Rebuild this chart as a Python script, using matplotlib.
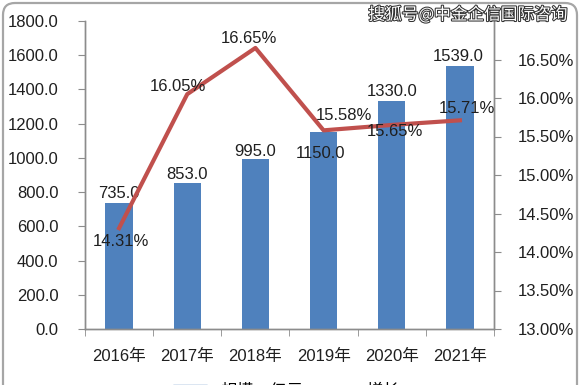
import matplotlib
matplotlib.use("Agg")
import matplotlib.pyplot as plt
import matplotlib.patheffects as pe
from matplotlib.patches import FancyBboxPatch, Patch
from matplotlib.lines import Line2D
from matplotlib.ticker import FixedLocator

plt.rcParams["font.family"] = ["Liberation Sans", "Noto Sans CJK SC", "DejaVu Sans"]

years = ["2016年", "2017年", "2018年", "2019年", "2020年", "2021年"]
scale = [735.0, 853.0, 995.0, 1150.0, 1330.0, 1539.0]
growth = [14.31, 16.05, 16.65, 15.58, 15.65, 15.71]

BAR = "#4F81BD"
LINE = "#C0504D"
TXT = "#1f1f1f"
GRID = "#8c8c8c"

fig = plt.figure(figsize=(5.81, 3.85), dpi=100)
ax = fig.add_axes([85 / 581, 1 - 329 / 385, (494 - 85) / 581, (329 - 21) / 385])
ax2 = ax.twinx()

x = list(range(len(years)))
ax.bar(x, scale, width=0.4, color=BAR, zorder=2)
ax.set_xlim(-0.5, len(years) - 0.5)
ax.set_ylim(0, 1800)
ax.set_yticks([i * 200 for i in range(10)])
ax.set_yticklabels(["%.1f" % (i * 200) for i in range(10)])
ax.set_xticks(x)
ax.set_xticklabels(years)
ax.xaxis.set_minor_locator(FixedLocator([i - 0.5 for i in range(len(years) + 1)]))
ax.tick_params(axis="x", which="major", length=0, pad=14, labelsize=12, colors=TXT)
ax.tick_params(axis="x", which="minor", length=5, color=GRID)
ax.tick_params(axis="y", length=5, color=GRID, labelsize=12, labelcolor=TXT, pad=14)

ax2.plot(x, growth, color=LINE, lw=3, zorder=3)
ax2.set_ylim(13, 17)
ticks2 = [13 + 0.5 * i for i in range(8)]
ax2.set_yticks(ticks2)
ax2.set_yticklabels(["%.2f%%" % t for t in ticks2])
ax2.tick_params(axis="y", length=5, color=GRID, labelsize=12, labelcolor=TXT, pad=12)

for a in (ax, ax2):
    a.spines["top"].set_visible(False)
    for s in ("left", "right", "bottom"):
        a.spines[s].set_color(GRID)
        a.spines[s].set_linewidth(1)

bar_off = [(0, 10), (0, 9), (0, 7), (-3, -21), (0, 10), (-2, 9)]
for i, v in enumerate(scale):
    ax.annotate("%.1f" % v, (i, v), xytext=bar_off[i], textcoords="offset pixels",
                ha="center", va="center", fontsize=12, color=TXT, zorder=5)

line_off = [(2, -13), (-9, 8), (-6, 9), (20, 15), (3, -7), (7, 12)]
for i, v in enumerate(growth):
    ax2.annotate("%.2f%%" % v, (i, v), xytext=line_off[i], textcoords="offset pixels",
                 ha="center", va="center", fontsize=12, color=TXT, zorder=5)

# legend sits at the very bottom edge, as in the source image
handles = [Patch(color=BAR), Line2D([], [], color=LINE, lw=3)]
fig.legend(handles, ["规模：亿元", "增长"], loc="upper center", ncol=2,
           bbox_to_anchor=(0.493, 17 / 385), frameon=False, fontsize=12,
           columnspacing=1.0, handlelength=2.0, handleheight=0.5)

# rounded outer frame
frame = FancyBboxPatch((0.03, -0.3), 5.74, 4.12, boxstyle="round,pad=0,rounding_size=0.12",
                       transform=fig.dpi_scale_trans, fill=False, ec="#a6a6a6", lw=1.6)
fig.patches.append(frame)

# watermark
fig.text(567 / 581, 1 - 15 / 385, "搜狐号@中金企信国际咨询", ha="right", va="center",
         fontsize=12, color="white", family=["Noto Sans CJK SC"],
         path_effects=[pe.withStroke(linewidth=1.5, foreground="#333333")])

fig.savefig("out.png", dpi=100)
